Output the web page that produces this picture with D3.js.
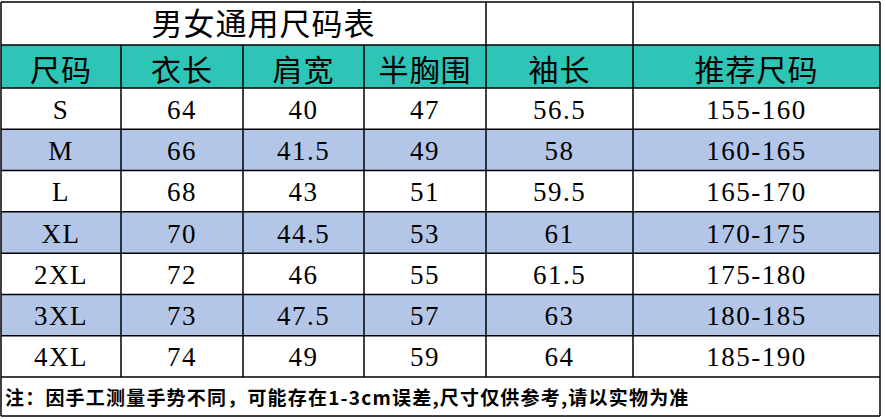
<!DOCTYPE html>
<html lang="zh">
<head>
<meta charset="UTF-8">
<title>男女通用尺码表</title>
<style>
  body { margin: 0; background: #fff; }
  text { font-family: "Liberation Serif", "Noto Sans CJK SC", serif; fill: #000; }
  .cjk { font-family: "Noto Sans CJK SC", sans-serif; }
</style>
</head>
<body>
<script src="https://d3js.org/d3.v7.min.js"></script>
<script>
const title = "男女通用尺码表"
const headers = ["尺码", "衣长", "肩宽", "半胸围", "袖长", "推荐尺码"]
const sizes = ["S", "M", "L", "XL", "2XL", "3XL", "4XL"]
const length = ["64", "66", "68", "70", "72", "73", "74"]
const shoulder = ["40", "41.5", "43", "44.5", "46", "47.5", "49"]
const chest = ["47", "49", "51", "53", "55", "57", "59"]
const sleeve = ["56.5", "58", "59.5", "61", "61.5", "63", "64"]
const height = ["155-160", "160-165", "165-170", "170-175", "175-180", "180-185", "185-190"]
const note = "注：因手工测量手势不同，可能存在1-3cm误差,尺寸仅供参考,请以实物为准"

const W = 886, H = 420
const colEdges = [1, 121, 243, 364, 486, 633, 880]
const rowTop = 88, rowBottom = 377
const columns = [sizes, length, shoulder, chest, sleeve, height]

const svg = d3.select("body").append("svg").attr("width", W).attr("height", H)

const y = d3.scaleBand().domain(d3.range(sizes.length)).range([rowTop, rowBottom])

// faint sheet gridlines at top
svg.selectAll(".gl").data([243, 364, 633]).enter().append("line")
  .attr("x1", d => d).attr("x2", d => d).attr("y1", 0).attr("y2", 2)
  .attr("stroke", "#ddd")

// header background
svg.append("rect").attr("x", colEdges[0]).attr("y", 45)
  .attr("width", colEdges[6] - colEdges[0]).attr("height", rowTop - 45)
  .attr("fill", "#2ec4b6")

// striped rows
svg.selectAll(".stripe").data(d3.range(sizes.length)).enter().append("rect")
  .attr("x", colEdges[0]).attr("y", d => y(d))
  .attr("width", colEdges[6] - colEdges[0]).attr("height", y.bandwidth())
  .attr("fill", d => d % 2 ? "#b4c6e7" : "#fff")

// title
svg.append("text").attr("class", "cjk").attr("x", (colEdges[0] + colEdges[4]) / 2 + 20).attr("y", 35)
  .attr("text-anchor", "middle").attr("font-size", 31).attr("letter-spacing", 1).text(title)

// headers
headers.forEach((h, i) => {
  svg.append("text").attr("class", "cjk")
    .attr("x", (colEdges[i] + colEdges[i + 1]) / 2).attr("y", 81)
    .attr("text-anchor", "middle").attr("font-size", 30).attr("letter-spacing", 1).text(h)
})

// cells
columns.forEach((col, c) => {
  svg.selectAll(".c" + c).data(col).enter().append("text")
    .attr("x", (colEdges[c] + colEdges[c + 1]) / 2)
    .attr("y", (d, i) => y(i) + y.bandwidth() / 2 + 10)
    .attr("text-anchor", "middle").attr("font-size", 27).attr("letter-spacing", 1.5).text(d => d)
})

// note
svg.append("text").attr("class", "cjk").attr("x", 5).attr("y", 405)
  .attr("font-size", 19).attr("font-weight", "bold").attr("letter-spacing", 1.2).text(note)

// grid lines
const hLines = [2, 45, rowTop].concat(d3.range(1, sizes.length + 1).map(i => y(i - 1) + y.bandwidth()), [416])
svg.selectAll(".hl").data(hLines).enter().append("line")
  .attr("x1", colEdges[0]).attr("x2", colEdges[6]).attr("y1", d => d).attr("y2", d => d)
  .attr("stroke", "#000").attr("stroke-width", 1.5)

// vertical lines: outer edges full, inner from header to bottom of data, plus title-row cells
svg.selectAll(".vo").data([colEdges[0], colEdges[6]]).enter().append("line")
  .attr("x1", d => d).attr("x2", d => d).attr("y1", 2).attr("y2", 416)
  .attr("stroke", "#000").attr("stroke-width", 1.5)
svg.selectAll(".vi").data(colEdges.slice(1, 6)).enter().append("line")
  .attr("x1", d => d).attr("x2", d => d).attr("y1", 45).attr("y2", rowBottom)
  .attr("stroke", "#000").attr("stroke-width", 1.5)
svg.selectAll(".vt").data([colEdges[4], colEdges[5]]).enter().append("line")
  .attr("x1", d => d).attr("x2", d => d).attr("y1", 2).attr("y2", 45)
  .attr("stroke", "#000").attr("stroke-width", 1.5)
</script>
</body>
</html>
